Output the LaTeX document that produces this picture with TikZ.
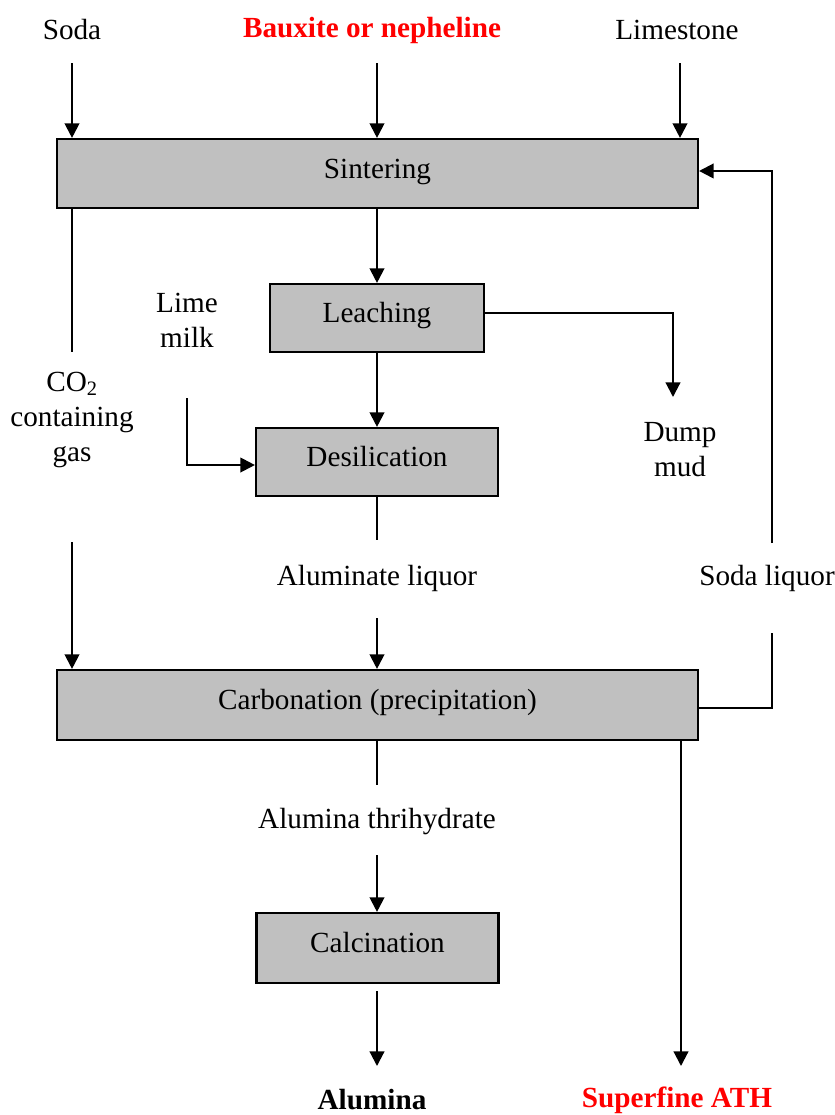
\documentclass[tikz,border=0pt]{standalone}
\usepackage{fontspec}
\setmainfont{Liberation Serif}
\usetikzlibrary{arrows.meta}
\definecolor{boxgray}{HTML}{C0C0C0}
\definecolor{hired}{HTML}{FF0000}
\begin{document}
\begin{tikzpicture}[x=0.75pt,y=-0.75pt,
  every node/.style={font=\fontsize{21.9}{26.3}\selectfont, inner sep=0pt, align=center},
  proc/.style={draw, line width=1.6pt, fill=boxgray, text height=15pt, text depth=8pt},
  arr/.style={line width=1.6pt, -{Triangle[length=11pt,width=11pt]}},
  ln/.style={line width=1.6pt},
  redlbl/.style={text=hired}]
\useasboundingbox (0,0) rectangle (835,1115);

% inputs
\node (soda) at (72,30) {Soda};
\node[redlbl] (baux) at (372,30) {\bfseries Bauxite or nepheline};
\node (limestone) at (677,30) {Limestone};

% process boxes
\node[proc, minimum width=480.75pt, minimum height=51.75pt] (sint) at (377.5,173.5) {Sintering};
\node[proc, minimum width=160.5pt, minimum height=51pt] (leach) at (377,318) {Leaching};
\node[proc, minimum width=181.5pt, minimum height=51pt] (desil) at (377,462) {Desilication};
\node[proc, minimum width=480.75pt, minimum height=52.5pt] (carb) at (377.5,705) {Carbonation (precipitation)};
\node[proc, minimum width=181.5pt, minimum height=52.5pt] (calc) at (377.5,948) {Calcination};

% labels
\node (limemilk) at (187,320) {Lime\\milk};
\node (dump) at (680,450) {Dump\\mud};
\node (co2) at (72,420) {CO\textsubscript{2}\\containing\\gas};
\node (alliq) at (377,578) {Aluminate liquor};
\node (sodaliq) at (767,578) {Soda liquor};
\node (ath) at (377,822) {Alumina thrihydrate};
\node (alumina) at (372,1100) {\bfseries Alumina};
\node[redlbl] (sath) at (677,1100) {\bfseries Superfine ATH};

% free ends
\coordinate (sodaA) at (72,63);
\coordinate (bauxA) at (377,63);
\coordinate (limeA) at (680,63);
\coordinate (dumpA) at (673,397);
\coordinate (lmA) at (187,398);
\coordinate (co2T) at (72,352);
\coordinate (co2B) at (72,542);
\coordinate (alA) at (377,540);
\coordinate (alB) at (377,618);
\coordinate (slB) at (772,633);
\coordinate (slT) at (772,543);
\coordinate (athA) at (377,785);
\coordinate (athB) at (377,855);
\coordinate (calA) at (377,991);
\coordinate (calB) at (377,1066);
\coordinate (sathB) at (681,1066);

% connectors
\draw[arr] (sodaA) -- (sodaA |- sint.north);
\draw[arr] (bauxA) -- (bauxA |- sint.north);
\draw[arr] (limeA) -- (limeA |- sint.north);
\draw[arr] (sint.south -| leach.north) -- (leach.north);
\draw[arr] (leach.south) -- (desil.north);
\draw[arr] ([yshift=3.75pt]leach.east) -| (dumpA);
\draw[arr] (lmA) |- ([yshift=-2.25pt]desil.west);
\draw[ln] (co2T |- sint.south) -- (co2T);
\draw[arr] (co2B) -- (co2B |- carb.north);
\draw[ln] (desil.south) -- (alA);
\draw[arr] (alB) -- (alB |- carb.north);
\draw[ln] ([yshift=-2.25pt]carb.east) -| (slB);
\draw[arr] (slT) |- ([yshift=1.9pt]sint.east);
\draw[ln] (athA |- carb.south) -- (athA);
\draw[arr] (athB) -- (athB |- calc.north);
\draw[arr] (calA) -- (calB);
\draw[arr] (sathB |- carb.south) -- (sathB);
\end{tikzpicture}
\end{document}
